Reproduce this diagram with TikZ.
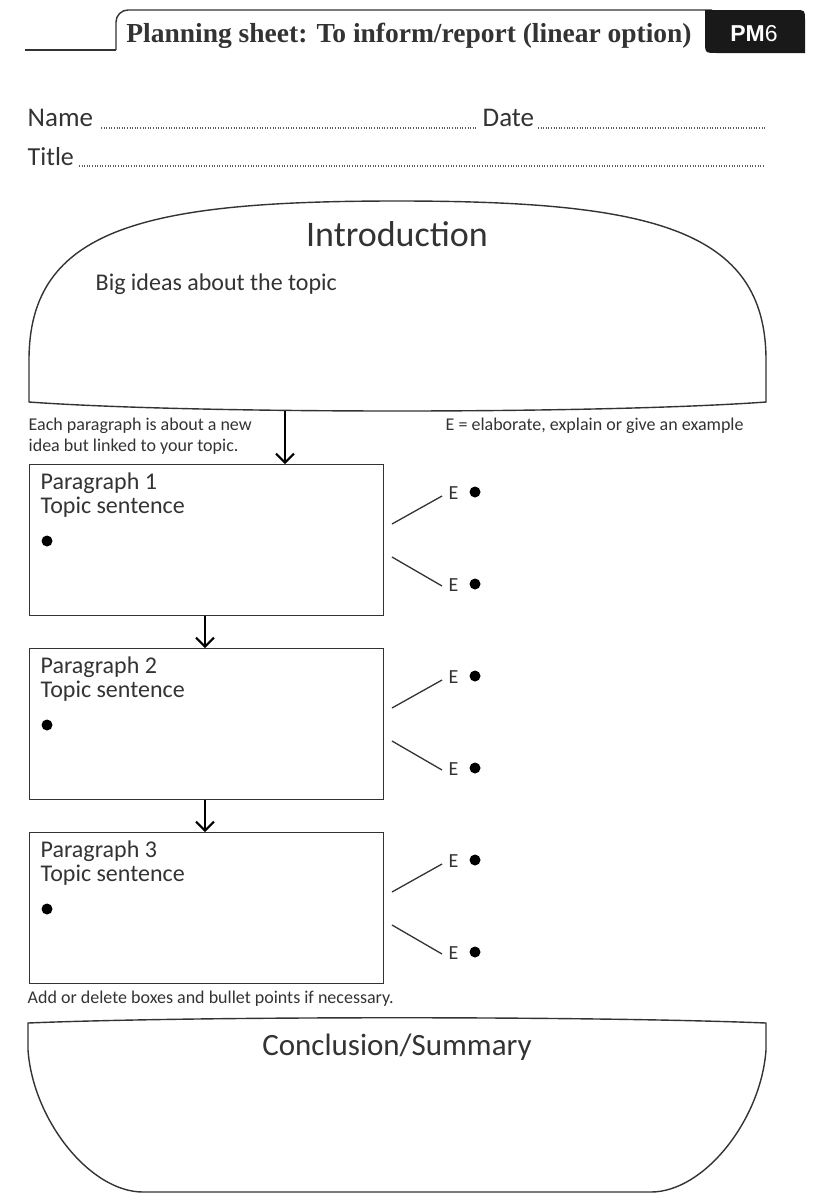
\documentclass[tikz,border=0pt]{standalone}
\usepackage{fontspec}
\setmainfont{Liberation Serif}
\newfontfamily\hand{Carlito}
\newfontfamily\pmfont{Liberation Sans}
\usetikzlibrary{arrows.meta}
\definecolor{ink}{HTML}{333333}
\begin{document}
\begin{tikzpicture}[x=1pt,y=-1pt,
  line width=1.4pt, draw=ink,
  every node/.style={text=ink, inner sep=0pt},
  pbox/.style={draw=ink, line width=1.4pt, minimum width=354pt, minimum height=151pt},
  lbl/.style={anchor=west, font=\hand\fontsize{24}{24}\selectfont},
  hdr/.style={anchor=west, font=\hand\fontsize{27}{27}\selectfont},
  note/.style={anchor=west, font=\hand\fontsize{18}{21}\selectfont, align=left},
  arr/.style={line width=2pt, draw=black, -{Straight Barb[length=9pt,width=18pt,line width=2pt]}},
  dot/.style={circle, fill=black, minimum size=11pt, inner sep=0pt},
  elbl/.style={anchor=west, font=\hand\fontsize{20}{20}\selectfont},
  dots/.style={line width=1.1pt, dash pattern=on 1pt off 1.6pt, draw=ink!80}
]
\useasboundingbox (0,0) rectangle (821,1200);

% header
\draw (25,50) -- (116,50);
\draw[rounded corners=12pt] (116,50) -- (116,10) -- (712,10);
\fill[black!90] (705,10) -- (795,10) .. controls (805,10) .. (805,20) -- (805,53) -- (717,53) .. controls (705,53) .. (705,41) -- cycle;
\node[font=\bfseries\fontsize{27.5}{27.5}\selectfont] (title) at (409,36) {Planning sheet: To inform/report (linear option)};
\node[text=white, font=\pmfont\fontsize{23}{23}\selectfont] (pm) at (754,34) {\textbf{PM}6};

% name / date / title lines
\node[hdr] (name) at (27,118) {Name};
\node[hdr] (date) at (482,118) {Date};
\node[hdr, font=\hand\fontsize{26}{26}\selectfont] (ttl) at (27,157) {Title};
\draw[dots] (101,128) -- (477,128);
\draw[dots] (538,128) -- (765,128);
\draw[dots] (79,166) -- (765,166);

% introduction dome
\draw (29,402) -- (29,360) .. controls (29,228) and (145,201) .. (397,201)
  .. controls (649,201) and (766,228) .. (766,360) -- (766,402)
  .. controls (600,414) and (194,414) .. (29,402) -- cycle;
\node[font=\hand\fontsize{36}{36}\selectfont] (intro) at (397,234) {Introduction};
\node[lbl] (big) at (95,284) {Big ideas about the topic};
\coordinate (ib) at (285,411);

\node[note] (each) at (28,436) {Each paragraph is about a new\\idea but linked to your topic.};
\node[note] (elab) at (445,426) {E = elaborate, explain or give an example};

% paragraph boxes
\foreach \i/\y in {1/464, 2/648, 3/832} {
  \node[pbox, anchor=north west] (p\i) at (29,\y) {};
  \node[lbl] (pt\i) at (40,\y+19) {Paragraph \i};
  \node[lbl] (ts\i) at (40,\y+43) {Topic sentence};
  \node[dot] (b\i) at (47,\y+77) {};
  \coordinate (u\i) at (392,\y+60);
  \coordinate (l\i) at (392,\y+93);
  \node[elbl] (eu\i) at (448,\y+29) {E};
  \node[elbl] (el\i) at (448,\y+121) {E};
  \node[dot] (du\i) at (475,\y+28) {};
  \node[dot] (dl\i) at (475,\y+120) {};
  \draw[line width=1.3pt] (u\i) -- ([xshift=-6pt,yshift=-3pt]eu\i.west);
  \draw[line width=1.3pt] (l\i) -- ([xshift=-6pt,yshift=-1pt]el\i.west);
}
\draw[arr] (ib) -- (ib |- p1.north);
\draw[arr] (p1.south -| 205,0) -- (p2.north -| 205,0);
\draw[arr] (p2.south -| 205,0) -- (p3.north -| 205,0);

\node[note] (add) at (27,999) {Add or delete boxes and bullet points if necessary.};

% conclusion bowl
\draw (28,1023) .. controls (200,1016) and (594,1016) .. (766,1023)
  -- (766,1050) .. controls (761,1120) and (704,1192) .. (651,1192)
  -- (143,1192) .. controls (90,1192) and (33,1120) .. (28,1050) -- cycle;
\node[font=\hand\fontsize{31}{31}\selectfont] (concl) at (397,1047) {Conclusion/Summary};
\end{tikzpicture}
\end{document}
